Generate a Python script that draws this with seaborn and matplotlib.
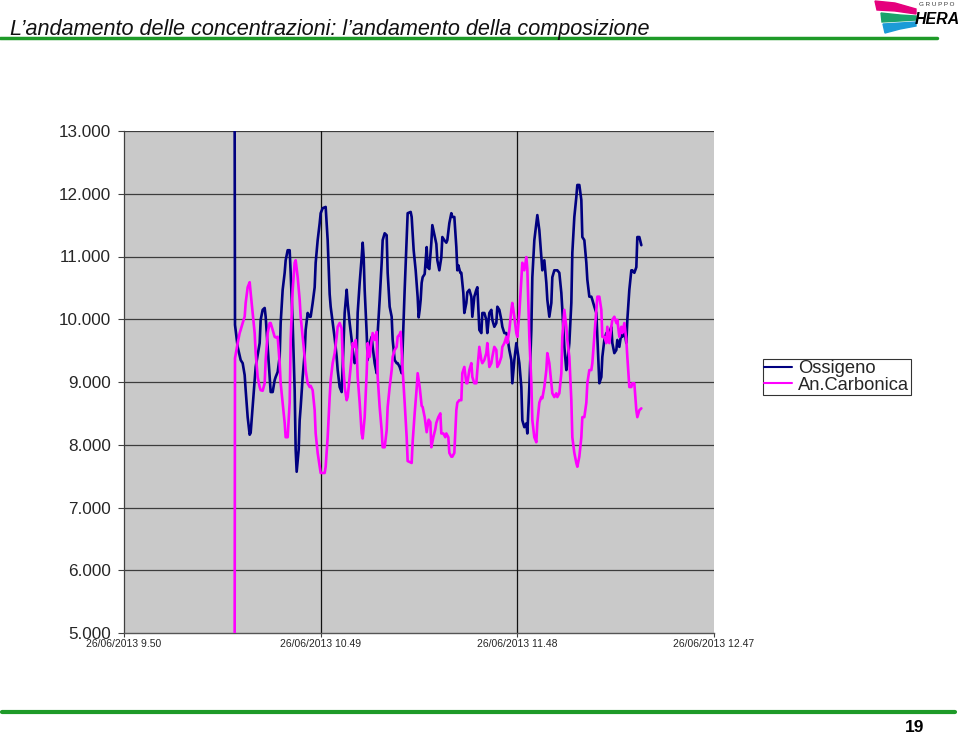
import numpy as np
import pandas as pd
import matplotlib
matplotlib.use("Agg")
import matplotlib.pyplot as plt
import seaborn as sns
from matplotlib.patches import Polygon
from matplotlib.lines import Line2D

# ---------------- data ----------------
series_names = ["Ossigeno", "An.Carbonica"]
series_colors = ["#000080", "#FF00FF"]
x_tick_minutes = [0, 59, 118, 177]          # minutes after 9.50
x_tick_labels = ["26/06/2013 9.50", "26/06/2013 10.49",
                 "26/06/2013 11.48", "26/06/2013 12.47"]
y_ticks = [5, 6, 7, 8, 9, 10, 11, 12, 13]
y_tick_labels = ["5.000", "6.000", "7.000", "8.000", "9.000",
                 "10.000", "11.000", "12.000", "13.000"]

# Ossigeno: minutes after 9.50 / value
ox_t = [33.2, 33.3, 34.1, 35.0, 35.6, 36.2, 36.5, 37.1, 37.7, 38.0, 38.6, 39.2, 39.5, 40.7, 41.0,
        41.6, 42.2, 42.5, 43.1, 43.7, 44.0, 44.6, 45.2, 45.5, 46.1, 46.7, 47.0, 47.6, 48.2, 48.5,
        49.1, 49.7, 50.0, 50.6, 51.2, 51.5, 51.8, 52.4, 52.7, 53.0, 53.6, 54.2, 54.5, 55.1, 55.7,
        56.0, 56.6, 57.2, 57.5, 58.1, 58.7, 59.0, 59.6, 60.5, 61.1, 61.7, 62.0, 62.6, 63.2, 63.8,
        64.1, 64.7, 65.3, 65.6, 66.2, 66.8, 67.1, 67.7, 68.3, 68.6, 69.2, 69.8, 70.1, 70.7, 71.3,
        71.6, 71.9, 72.2, 72.8, 73.1, 73.7, 74.3, 74.6, 75.2, 75.8, 76.1, 76.7, 77.3, 77.6, 78.2,
        78.8, 79.1, 79.7, 80.3, 80.6, 81.2, 81.8, 82.1, 82.7, 83.3, 83.6, 84.2, 84.8, 85.1, 86.0,
        86.3, 86.9, 87.5, 88.1, 88.4, 88.7, 89.0, 89.3, 89.6, 90.2, 90.8, 91.1, 91.6, 92.2, 92.5,
        93.1, 93.7, 94.0, 94.6, 95.2, 95.5, 96.1, 96.7, 97.0, 97.6, 98.2, 98.5, 99.1, 99.7, 100.0,
        100.3, 100.9, 101.2, 101.8, 102.1, 102.7, 103.0, 103.6, 104.2, 104.5, 105.1, 105.7, 106.0,
        106.6, 107.2, 107.5, 108.1, 108.7, 109.0, 109.6, 110.2, 110.5, 111.1, 111.7, 112.0, 112.6,
        113.2, 113.5, 114.1, 114.7, 115.0, 115.6, 116.2, 116.5, 117.1, 117.7, 118.0, 118.6, 119.2,
        119.5, 120.1, 120.7, 121.0, 121.6, 122.2, 122.5, 123.1, 123.7, 124.0, 124.6, 125.2, 125.5,
        126.1, 126.7, 127.0, 127.6, 128.2, 128.5, 129.1, 130.0, 130.6, 131.2, 131.5, 132.1, 132.7,
        133.0, 133.6, 134.2, 134.5, 135.1, 135.7, 136.0, 136.6, 137.2, 137.5, 138.1, 138.7, 139.0,
        139.6, 140.2, 140.5, 141.1, 141.7, 142.0, 142.6, 143.2, 143.5, 144.1, 144.7, 145.0, 145.6,
        146.2, 146.5, 147.1, 147.7, 148.0, 148.6, 149.2, 149.5, 150.1, 150.7, 151.0, 151.6, 152.2,
        152.5, 153.1, 153.7, 154.0, 154.6, 155.2]
ox_v = [13.02, 9.91, 9.56, 9.35, 9.30, 9.11, 8.87, 8.44, 8.16, 8.19, 8.60, 9.03, 9.24, 9.62, 9.99,
        10.15, 10.18, 10.04, 9.56, 9.08, 8.84, 8.84, 9.03, 9.08, 9.16, 9.40, 9.94, 10.47, 10.74, 10.94,
        11.10, 11.10, 10.74, 9.94, 8.87, 7.92, 7.57, 7.92, 8.39, 8.60, 9.08, 9.46, 9.83, 10.10, 10.04,
        10.04, 10.26, 10.51, 10.90, 11.26, 11.53, 11.69, 11.77, 11.79, 11.26, 10.40, 10.20, 9.95, 9.70, 9.40,
        9.19, 8.92, 8.84, 9.24, 10.10, 10.47, 10.26, 9.94, 9.67, 9.51, 9.30, 9.35, 10.10, 10.58, 10.99,
        11.22, 10.99, 10.47, 9.78, 9.35, 9.62, 9.72, 9.56, 9.30, 9.14, 9.78, 10.31, 10.90, 11.26, 11.37,
        11.34, 10.74, 10.20, 10.04, 9.67, 9.35, 9.30, 9.30, 9.24, 9.14, 9.56, 10.47, 11.26, 11.69, 11.71,
        11.63, 11.10, 10.78, 10.35, 10.03, 10.15, 10.31, 10.58, 10.67, 10.72, 11.15, 10.83, 10.80, 11.22, 11.50,
        11.35, 11.20, 10.94, 10.78, 10.99, 11.31, 11.26, 11.22, 11.26, 11.53, 11.69, 11.63, 11.63, 11.15, 10.78,
        10.86, 10.74, 10.74, 10.42, 10.10, 10.26, 10.43, 10.47, 10.36, 10.04, 10.36, 10.47, 10.51,
        9.83, 9.78, 10.10, 10.10, 9.99, 9.78, 10.10, 10.15, 9.99, 9.88, 9.94, 10.20, 10.15,
        9.99, 9.88, 9.78, 9.78, 9.72, 9.51, 9.35, 8.98, 9.35, 9.62, 9.51, 9.30, 8.92,
        8.39, 8.28, 8.34, 8.18, 8.92, 9.83, 10.67, 11.26, 11.53, 11.66, 11.42, 10.99, 10.78,
        10.94, 10.58, 10.31, 10.04, 10.26, 10.67, 10.78, 10.78, 10.74, 10.42, 10.15, 9.56, 9.19,
        9.30, 9.62, 10.26, 11.06, 11.63, 11.95, 12.14, 12.14, 11.90, 11.31, 11.26, 10.90, 10.63,
        10.36, 10.36, 10.31, 10.20, 10.10, 9.72, 8.98, 9.08, 9.40, 9.67, 9.78, 9.72, 9.78,
        9.88, 9.62, 9.46, 9.51, 9.67, 9.56, 9.78, 9.72, 9.83, 9.62, 9.99, 10.47, 10.78,
        10.78, 10.74, 10.83, 11.31, 11.31, 11.18]

# An.Carbonica: minutes after 9.50 / value
co_t = [33.2, 33.3, 34.1, 34.7, 35.0, 35.6, 36.2, 36.5, 37.1, 37.7, 38.0, 38.6, 39.2, 39.5, 40.1,
        40.7, 41.0, 41.6, 42.2, 42.5, 43.1, 43.7, 44.0, 44.6, 45.2, 45.5, 46.1, 46.7, 47.0, 47.6,
        48.2, 48.5, 49.1, 49.7, 50.0, 50.6, 51.2, 51.5, 52.1, 52.7, 53.0, 53.6, 54.2, 54.5, 55.1,
        55.7, 56.0, 56.6, 57.2, 57.5, 58.1, 58.7, 59.0, 60.2, 60.5, 61.1, 61.7, 62.0, 62.6, 63.2,
        63.8, 64.1, 64.7, 65.3, 65.6, 66.2, 66.8, 67.1, 67.7, 68.3, 68.6, 69.2, 69.5, 69.8, 70.1,
        70.7, 71.3, 71.6, 72.2, 72.8, 73.1, 73.7, 74.3, 74.6, 75.2, 75.8, 76.1, 76.7, 77.3, 77.6,
        78.2, 78.8, 79.1, 79.7, 80.3, 80.6, 81.2, 81.8, 82.1, 82.7, 83.0, 83.3, 83.6, 84.2, 84.8,
        85.1, 86.3, 86.6, 87.2, 87.8, 88.1, 88.7, 89.3, 89.6, 90.2, 90.8, 91.1, 91.4, 91.9, 92.2,
        92.8, 93.4, 93.7, 94.3, 94.9, 95.2, 95.8, 96.4, 96.7, 97.3, 97.6, 98.2, 98.5, 99.1, 99.7,
        100.0, 100.6, 101.2, 101.5, 102.1, 102.7, 103.0, 103.6, 104.2, 104.5, 105.1, 105.7, 106.0,
        106.6, 107.2, 107.5, 108.1, 108.7, 109.0, 109.6, 110.2, 110.5, 111.1, 111.7, 112.0, 112.6,
        113.2, 113.5, 114.1, 114.7, 115.0, 115.6, 116.2, 116.5, 117.1, 117.7, 118.0, 118.6, 119.2,
        119.5, 120.1, 120.7, 121.0, 121.6, 122.2, 122.5, 123.1, 123.7, 124.0, 124.6, 125.2, 125.5,
        126.1, 126.7, 127.0, 127.6, 128.2, 128.5, 129.1, 129.7, 130.0, 130.6, 131.2, 131.5, 132.1,
        132.7, 133.0, 133.6, 134.2, 134.5, 135.1, 135.7, 136.0, 136.6, 137.2, 137.5, 138.1, 138.7,
        139.0, 139.6, 140.2, 140.5, 141.1, 141.7, 142.0, 142.6, 143.2, 143.5, 144.1, 144.7, 145.0,
        145.6, 146.2, 146.5, 147.1, 147.7, 148.0, 148.6, 149.2, 149.5, 150.1, 150.7, 151.0, 151.6,
        152.2, 152.5, 153.1, 153.7, 154.0, 154.6, 155.2]
co_v = [5.00, 9.38, 9.62, 9.78, 9.83, 9.94, 10.04, 10.26, 10.51, 10.59, 10.42, 10.10, 9.78, 9.46, 9.08,
        8.92, 8.87, 8.86, 8.98, 9.35, 9.78, 9.94, 9.94, 9.83, 9.72, 9.71, 9.72, 9.30, 8.98, 8.67,
        8.35, 8.12, 8.12, 8.67, 9.67, 10.47, 10.90, 10.94, 10.67, 10.31, 10.04, 9.72, 9.40, 9.19, 8.98,
        8.92, 8.94, 8.87, 8.55, 8.18, 7.87, 7.65, 7.55, 7.55, 7.65, 8.12, 8.76, 9.03, 9.30, 9.46,
        9.72, 9.88, 9.94, 9.85, 9.40, 8.92, 8.71, 8.76, 9.08, 9.40, 9.62, 9.56, 9.67, 9.51, 9.08,
        8.67, 8.18, 8.10, 8.44, 9.14, 9.62, 9.40, 9.67, 9.78, 9.67, 9.80, 9.08, 8.60, 8.23, 7.96,
        7.96, 8.23, 8.60, 8.92, 9.19, 9.40, 9.51, 9.56, 9.72, 9.76, 9.80, 9.50, 9.19, 8.67, 8.12,
        7.74, 7.71, 8.05, 8.50, 8.90, 9.14, 8.92, 8.62, 8.60, 8.44, 8.20, 8.30, 8.40, 8.36, 7.96,
        8.12, 8.25, 8.35, 8.44, 8.50, 8.18, 8.18, 8.12, 8.18, 8.12, 7.87, 7.81, 7.81, 7.87, 8.55,
        8.67, 8.71, 8.71, 9.14, 9.24, 8.98, 8.98, 9.19, 9.30, 9.08, 8.98, 8.98, 9.19,
        9.56, 9.35, 9.30, 9.35, 9.46, 9.62, 9.24, 9.30, 9.40, 9.56, 9.51, 9.24, 9.30,
        9.40, 9.56, 9.62, 9.72, 9.62, 9.83, 10.15, 10.26, 10.04, 9.78, 9.72, 10.10, 10.63,
        10.90, 10.78, 10.99, 10.80, 9.72, 8.98, 8.39, 8.12, 8.04, 8.35, 8.67, 8.76, 8.74,
        8.92, 9.19, 9.46, 9.30, 8.98, 8.82, 8.76, 8.82, 8.76, 8.82, 9.14, 9.72, 10.15,
        9.88, 9.67, 9.40, 8.71, 8.12, 7.87, 7.71, 7.65, 7.81, 8.12, 8.44, 8.44, 8.67,
        8.98, 9.19, 9.19, 9.30, 9.72, 10.15, 10.36, 10.36, 10.15, 9.72, 9.72, 9.62, 9.88,
        9.62, 9.88, 9.99, 10.04, 9.94, 9.99, 9.72, 9.88, 9.78, 9.94, 9.67, 9.40, 8.92,
        8.92, 8.98, 8.98, 8.55, 8.44, 8.55, 8.58]

df = pd.concat([
    pd.DataFrame({"t": ox_t, "v": ox_v, "serie": series_names[0]}),
    pd.DataFrame({"t": co_t, "v": co_v, "serie": series_names[1]}),
], ignore_index=True)

# ---------------- figure ----------------
sns.set_style("white")
plt.rcParams["font.family"] = ["Liberation Sans", "DejaVu Sans"]

W, H = 960, 735
fig = plt.figure(figsize=(W / 100, H / 100), dpi=100)
fig.patch.set_facecolor("white")

ax = fig.add_axes([124 / W, 1 - 633 / H, 590 / W, 502 / H])
ax.set_facecolor("#C9C9C9")

for y in y_ticks[1:]:
    ax.axhline(y, color="#3c3c3c", lw=0.9, zorder=1)
for xm in x_tick_minutes[1:3]:
    ax.axvline(xm, color="#111111", lw=0.9, zorder=1)

palette = dict(zip(series_names, series_colors))
sns.lineplot(data=df, x="t", y="v", hue="serie", hue_order=series_names,
             palette=palette, estimator=None, sort=False, linewidth=1.9,
             ax=ax, legend=False, zorder=3)

ax.set_xlim(x_tick_minutes[0], x_tick_minutes[-1])
ax.set_ylim(y_ticks[0], y_ticks[-1])
ax.set_xticks(x_tick_minutes)
ax.set_xticklabels(x_tick_labels, fontsize=7.5)
ax.set_yticks(y_ticks)
ax.set_yticklabels(y_tick_labels, fontsize=12.3)
ax.set_xlabel("")
ax.set_ylabel("")
ax.tick_params(axis="y", direction="out", length=4.5, width=0.8, color="#404040", pad=5, left=True)
ax.tick_params(axis="x", direction="out", length=3, width=0.8, color="#404040", pad=1.5, bottom=True)
for s in ["top", "right"]:
    ax.spines[s].set_visible(False)
ax.spines["left"].set_color("#404040")
ax.spines["left"].set_linewidth(0.9)
ax.spines["bottom"].set_color("#555555")
ax.spines["bottom"].set_linewidth(1.0)

handles = [Line2D([], [], color=c, lw=1.5) for c in series_colors]
leg = fig.legend(handles, series_names, loc="upper left",
                 bbox_to_anchor=(763 / W, 1 - 359 / H), bbox_transform=fig.transFigure,
                 frameon=True, fancybox=False, edgecolor="black", fontsize=13.2,
                 handlelength=1.5, handletextpad=0.35, borderpad=0.08,
                 labelspacing=-0.05, borderaxespad=0)
leg.get_frame().set_linewidth(0.8)

# ---------------- slide decorations ----------------
fig.text(10 / W, 1 - 35 / H,
         "L’andamento delle concentrazioni: l’andamento della composizione",
         fontsize=15.6, style="italic", va="baseline", ha="left", color="#111111")
fig.add_artist(Line2D([0, 937 / W], [1 - 38 / H, 1 - 38 / H], color="#1E9A28", lw=2.5))
fig.add_artist(Line2D([2 / W, 955 / W], [1 - 712 / H, 1 - 712 / H], color="#1E9A28", lw=3))
fig.text(915 / W, 1 - 727 / H, "19", fontsize=12.5, fontweight="bold",
         ha="center", va="center", color="black")

# HERA logo
lax = fig.add_axes([870 / W, 1 - 36 / H, 90 / W, 36 / H])
lax.set_xlim(870, 960)
lax.set_ylim(36, 0)
lax.axis("off")
lax.add_patch(Polygon([(875, 1), (895, 3), (916, 9), (916, 14), (895, 11), (877, 10)],
                      closed=True, color="#E5007D"))
lax.add_patch(Polygon([(881, 13), (900, 15), (916, 16), (916, 20), (900, 21), (882, 22)],
                      closed=True, color="#1AA36B"))
lax.add_patch(Polygon([(883, 24), (900, 23), (916, 22), (916, 26), (900, 29), (885, 33)],
                      closed=True, color="#1B9BD7"))
lax.text(937, 20, "HERA", fontsize=11.5, fontweight="bold", style="italic",
         ha="center", va="center", color="black")
lax.text(937, 4, "G R U P P O", fontsize=4.5, ha="center", va="center", color="#333333")

fig.savefig("out.png", dpi=100, facecolor="white")
